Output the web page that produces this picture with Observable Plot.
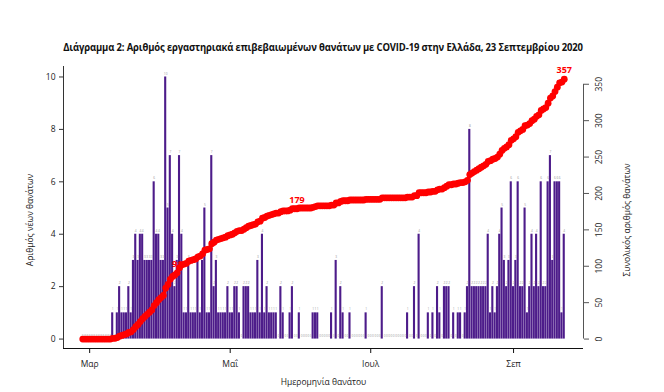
<!DOCTYPE html>
<html><head><meta charset="utf-8">
<script src="https://cdn.jsdelivr.net/npm/d3@7"></script>
<script src="https://cdn.jsdelivr.net/npm/@observablehq/plot@0.6"></script>
<style>
body{margin:0;background:#fff;width:664px;height:392px;overflow:hidden;font-family:"Open Sans",sans-serif;position:relative}
#title{height:60px;width:664px;position:relative}
#title span{position:absolute;left:323px;top:40px;transform:translateX(-50%) scaleX(0.93);font-weight:bold;font-size:10.2px;line-height:14px;color:#111;white-space:nowrap;letter-spacing:-0.15px}
#chart svg{display:block}
.vt{position:absolute;font-size:8.5px;line-height:10px;color:#222;white-space:nowrap;transform:translate(-50%,-50%) rotate(-90deg)}
</style></head><body>
<div id="title"><span id="tt"></span></div>
<div id="chart"></div>
<div class="vt" id="ylab" style="left:30px;top:220px"></div>
<div class="vt" id="y2lab" style="left:627px;top:220px"></div>
<script>
// ---- data ----
const startDate = "2020-02-27";
const febDeaths = [0,0,0];
const marDeaths = [0,0,0,0,0,0,0,0,0,0,1,0,1,2,1,1,1,2,1,3,4,3,4,4,3,3,3,3,6,4,4];
const aprDeaths = [3,3,10,5,7,4,2,3,7,4,1,1,3,1,1,1,3,1,3,5,1,1,7,2,3,1,1,1,1,2];
const mayDeaths = [1,1,2,2,1,0,2,2,2,1,1,1,3,1,4,1,2,1,1,1,1,0,2,1,0,0,1,2,0,0,1];
const junDeaths = [0,0,0,0,0,1,1,1,0,0,0,0,0,1,0,3,0,2,1,0,0,1,0,0,0,0,0,0,1,0];
const julDeaths = [0,0,0,0,0,2,0,0,0,0,0,0,0,0,0,0,1,0,0,2,0,4,0,0,0,1,0,1,0,2,1];
const augDeaths = [0,2,2,2,0,1,0,1,1,0,1,2,8,2,2,2,2,2,2,2,4,1,2,1,2,4,5,3,2,3,6];
const sepDeaths = [2,3,6,2,2,5,1,2,4,2,4,2,6,2,2,6,7,3,6,6,6,1,4];
const labelDates = ["2020-04-08","2020-05-30","2020-09-23"];
const monthTicks = ["2020-03-01","2020-05-01","2020-07-01","2020-09-01"];
const monthLabels = ["Μαρ","Μαΐ","Ιουλ","Σεπ"];
const leftTicks = [0,2,4,6,8,10];
const rightTicks = [0,50,100,150,200,250,300,350];
const titleText = "Διάγραμμα 2: Αριθμός εργαστηριακά επιβεβαιωμένων θανάτων με COVID-19 στην Ελλάδα, 23 Σεπτεμβρίου 2020";
const yTitle = "Αριθμός νέων θανάτων";
const y2Title = "Συνολικός αριθμός θανάτων";
const xTitle = "Ημερομηνία θανάτου";

// ---- build ----
document.getElementById("tt").textContent = titleText;
document.getElementById("ylab").textContent = yTitle;
document.getElementById("y2lab").textContent = y2Title;
const DAY = 864e5;
const dailyDeaths = [].concat(febDeaths, marDeaths, aprDeaths, mayDeaths, junDeaths, julDeaths, augDeaths, sepDeaths);
const t0 = Date.parse(startDate);
let acc = 0;
const rows = dailyDeaths.map((v, i) => { acc += v; return {date: new Date(t0 + i*DAY), v, cum: acc}; });
const first = +rows[0].date, last = +rows[rows.length-1].date;
const pad = 0.04*(last - first);
const xDomain = [new Date(first - pad), new Date(last + pad)];
const k = 1/36; // right-axis scale factor
const labelSet = new Set(labelDates.map(d => Date.parse(d)));
const labelRows = rows.filter(r => labelSet.has(+r.date));
const monthMap = new Map(monthTicks.map((d,i) => [Date.parse(d), monthLabels[i]]));
const purple = "#4d1c8a";

const chart = Plot.plot({
  width: 664, height: 332,
  marginTop: 6, marginBottom: 44, marginLeft: 63, marginRight: 81,
  x: {type: "utc", domain: xDomain},
  y: {domain: [-0.36, 10.4]},
  style: {fontFamily: "'Open Sans', sans-serif", fontSize: "8.5px", color: "#222", background: "#fff"},
  marks: [
    Plot.rectY(rows, {x1: r => new Date(+r.date - DAY/2), x2: r => new Date(+r.date + DAY/2), y1: 0, y2: "v", fill: purple, insetLeft: 0.1, insetRight: 0.1}),
    Plot.text(rows, {x: "date", y: "v", text: r => String(r.v), dy: -3.5, fontSize: 3.2, fill: "#999"}),
    Plot.line(rows, {x: "date", y: r => r.cum*k, stroke: "#ff0000", strokeWidth: 3.5}),
    Plot.dot(rows, {x: "date", y: r => r.cum*k, r: 3.4, fill: "#ff0000"}),
    Plot.text(labelRows, {x: "date", y: r => r.cum*k, text: r => String(r.cum), dy: -9, fill: "#ff0000", fontWeight: "bold", fontSize: 9}),
    Plot.ruleX([xDomain[0]], {stroke: "#333"}),
    Plot.ruleY([-0.36], {stroke: "#111"}),
    Plot.ruleX([xDomain[1]], {y1: 0, y2: 350*k, stroke: "#555"}),
    Plot.axisY(leftTicks, {anchor: "left", tickSize: 4, tickPadding: 4, label: null, stroke: "#333"}),
    Plot.axisY(rightTicks.map(v => v*k), {anchor: "right", tickFormat: v => String(Math.round(v/k)), tickRotate: -90, tickSize: 5, tickPadding: 13, label: null, stroke: "#555"}),
    Plot.axisX(monthTicks.map(d => new Date(Date.parse(d))), {tickFormat: d => monthMap.get(+d), tickSize: 5, tickPadding: 7, label: null, stroke: "#111"}),
    Plot.text([xTitle], {frameAnchor: "bottom", dy: 36, fontSize: 8.5})
  ]
});
document.getElementById("chart").appendChild(chart);
</script></body></html>
